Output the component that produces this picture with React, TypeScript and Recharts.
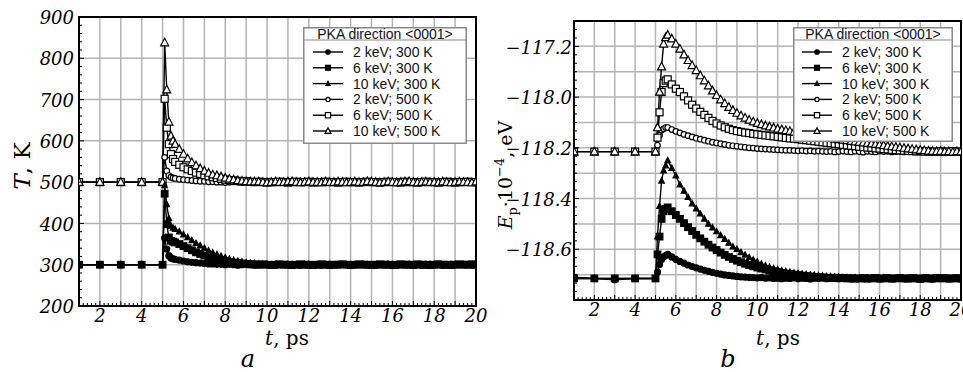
import React from 'react';
import { LineChart, Line, XAxis, YAxis, CartesianGrid, ReferenceArea } from 'recharts';

// time points, ps
const times = [
  1, 2, 3, 4, 5, 5.1, 5.2, 5.3, 5.4, 5.5,
  5.6, 5.8, 6, 6.2, 6.4, 6.6, 6.8, 7, 7.2, 7.4,
  7.6, 7.8, 8, 8.2, 8.4, 8.6, 8.8, 9, 9.2, 9.4,
  9.6, 9.8, 10, 10.2, 10.4, 10.6, 10.8, 11, 11.2, 11.4,
  11.6, 11.8, 12, 12.2, 12.4, 12.6, 12.8, 13, 13.2, 13.4,
  13.6, 13.8, 14, 14.2, 14.4, 14.6, 14.8, 15, 15.2, 15.4,
  15.6, 15.8, 16, 16.2, 16.4, 16.6, 16.8, 17, 17.2, 17.4,
  17.6, 17.8, 18, 18.2, 18.4, 18.6, 18.8, 19, 19.2, 19.4,
  19.6, 19.8, 20,
];

// panel a: temperature, K
const temp2keV300K = [
  300, 300, 300, 300, 300, 365, 338, 322, 316, 314,
  313, 311, 309, 307, 306, 305, 304, 303, 302, 302,
  301, 301, 300, 301, 300, 299, 300, 301, 300, 299,
  300, 300, 301, 300, 299, 300, 300, 301, 300, 300,
  299, 300, 301, 300, 300, 299, 300, 301, 300, 300,
  301, 300, 299, 300, 300, 301, 300, 300, 299, 300,
  300, 301, 300, 299, 300, 300, 301, 300, 300, 299,
  300, 301, 300, 300, 299, 300, 301, 300, 300, 301,
  300, 299, 300,
];
const temp6keV300K = [
  300, 300, 300, 300, 300, 472, 398, 366, 358, 356,
  354, 350, 345, 340, 335, 330, 326, 322, 318, 315,
  312, 310, 308, 306, 305, 304, 303, 302, 301, 301,
  300, 301, 300, 299, 300, 301, 300, 300, 299, 300,
  301, 300, 300, 299, 300, 301, 300, 299, 300, 300,
  301, 300, 299, 300, 301, 300, 300, 299, 300, 301,
  300, 300, 299, 300, 301, 300, 300, 299, 301, 300,
  300, 299, 300, 301, 300, 300, 299, 300, 301, 300,
  300, 301, 300,
];
const temp10keV300K = [
  300, 300, 300, 300, 300, 492, 446, 412, 394, 389,
  386, 380, 373, 366, 359, 352, 346, 340, 334, 329,
  325, 321, 317, 314, 311, 309, 307, 305, 304, 303,
  302, 301, 301, 300, 301, 300, 299, 300, 301, 300,
  300, 301, 300, 299, 300, 300, 301, 300, 299, 300,
  301, 300, 300, 299, 300, 301, 300, 300, 299, 300,
  300, 301, 300, 300, 299, 300, 301, 300, 300, 299,
  301, 300, 300, 301, 299, 300, 300, 301, 300, 300,
  299, 300, 301,
];
const temp2keV500K = [
  500, 500, 500, 500, 500, 560, 527, 516, 512, 510,
  509, 507, 506, 505, 504, 503, 502, 502, 501, 501,
  500, 500, 499, 500, 501, 500, 499, 500, 500, 501,
  500, 499, 500, 501, 500, 500, 499, 500, 501, 500,
  500, 499, 500, 500, 501, 500, 499, 500, 500, 501,
  500, 500, 499, 500, 501, 500, 500, 499, 500, 501,
  500, 499, 500, 500, 501, 500, 499, 500, 500, 501,
  500, 500, 499, 501, 500, 500, 499, 500, 501, 500,
  500, 499, 500,
];
const temp6keV500K = [
  500, 500, 500, 500, 500, 702, 632, 592, 568, 556,
  549, 542, 536, 531, 527, 523, 520, 517, 514, 512,
  510, 508, 506, 505, 504, 503, 502, 502, 501, 500,
  501, 500, 499, 500, 500, 501, 500, 499, 500, 501,
  500, 500, 501, 499, 500, 500, 501, 500, 500, 499,
  500, 501, 500, 500, 499, 500, 501, 500, 500, 499,
  500, 501, 500, 500, 499, 501, 500, 500, 499, 500,
  501, 500, 500, 499, 500, 501, 500, 499, 500, 500,
  501, 500, 500,
];
const temp10keV500K = [
  500, 500, 500, 500, 500, 838, 724, 646, 612, 600,
  592, 580, 568, 557, 548, 540, 533, 527, 522, 518,
  516, 513, 510, 508, 506, 504, 503, 502, 501, 501,
  501, 500, 499, 500, 501, 500, 500, 501, 502, 500,
  499, 500, 501, 500, 500, 499, 501, 500, 500, 501,
  500, 499, 500, 501, 500, 500, 502, 501, 500, 499,
  500, 501, 500, 499, 500, 501, 502, 500, 499, 500,
  501, 500, 500, 499, 501, 500, 499, 500, 501, 500,
  500, 499, 501,
];

// panel b: potential energy, 10^4 eV
const ep2keV300K = [
  -118.71, -118.715, -118.72, -118.715, -118.715, -118.69, -118.66, -118.64, -118.63, -118.625,
  -118.62, -118.63, -118.64, -118.648, -118.655, -118.662, -118.668, -118.673, -118.678, -118.683,
  -118.687, -118.691, -118.695, -118.698, -118.701, -118.703, -118.705, -118.707, -118.709, -118.71,
  -118.711, -118.712, -118.713, -118.712, -118.714, -118.713, -118.715, -118.714, -118.716, -118.714,
  -118.715, -118.713, -118.716, -118.714, -118.715, -118.717, -118.714, -118.715, -118.713, -118.716,
  -118.715, -118.714, -118.716, -118.713, -118.715, -118.717, -118.714, -118.715, -118.716, -118.713,
  -118.715, -118.714, -118.717, -118.715, -118.713, -118.716, -118.715, -118.714, -118.716, -118.715,
  -118.713, -118.715, -118.716, -118.714, -118.715, -118.717, -118.714, -118.715, -118.713, -118.716,
  -118.715, -118.714, -118.715,
];
const ep6keV300K = [
  -118.715, -118.715, -118.715, -118.715, -118.715, -118.62, -118.55, -118.48, -118.45, -118.44,
  -118.435, -118.45, -118.465, -118.48, -118.497, -118.513, -118.528, -118.543, -118.557, -118.57,
  -118.582, -118.593, -118.603, -118.613, -118.622, -118.63, -118.638, -118.645, -118.651, -118.657,
  -118.662, -118.667, -118.672, -118.676, -118.68, -118.684, -118.687, -118.69, -118.693, -118.696,
  -118.698, -118.7, -118.702, -118.704, -118.706, -118.707, -118.709, -118.71, -118.711, -118.712,
  -118.713, -118.712, -118.714, -118.713, -118.715, -118.714, -118.716, -118.715, -118.714, -118.716,
  -118.715, -118.713, -118.716, -118.715, -118.714, -118.716, -118.715, -118.713, -118.715, -118.716,
  -118.714, -118.715, -118.717, -118.714, -118.715, -118.716, -118.713, -118.715, -118.714, -118.716,
  -118.715, -118.714, -118.716,
];
const ep10keV300K = [
  -118.715, -118.715, -118.715, -118.715, -118.715, -118.55, -118.43, -118.33, -118.29, -118.27,
  -118.25, -118.28, -118.31, -118.345, -118.37, -118.395, -118.42, -118.44, -118.46, -118.48,
  -118.5, -118.515, -118.53, -118.545, -118.56, -118.575, -118.59, -118.6, -118.612, -118.622,
  -118.632, -118.642, -118.65, -118.658, -118.664, -118.67, -118.675, -118.68, -118.684, -118.687,
  -118.69, -118.693, -118.695, -118.697, -118.699, -118.701, -118.702, -118.704, -118.705, -118.707,
  -118.708, -118.709, -118.71, -118.711, -118.712, -118.713, -118.712, -118.714, -118.713, -118.715,
  -118.714, -118.716, -118.715, -118.713, -118.715, -118.716, -118.714, -118.715, -118.717, -118.714,
  -118.715, -118.713, -118.716, -118.715, -118.714, -118.716, -118.715, -118.713, -118.715, -118.716,
  -118.714, -118.715, -118.716,
];
const ep2keV500K = [
  -118.215, -118.215, -118.215, -118.215, -118.215, -118.19, -118.15, -118.13, -118.125, -118.12,
  -118.12, -118.128, -118.135, -118.141, -118.147, -118.152, -118.157, -118.162, -118.166, -118.17,
  -118.174, -118.178, -118.181, -118.184, -118.187, -118.19, -118.192, -118.194, -118.196, -118.198,
  -118.2, -118.201, -118.203, -118.204, -118.205, -118.206, -118.207, -118.208, -118.209, -118.21,
  -118.21, -118.211, -118.212, -118.211, -118.213, -118.212, -118.214, -118.213, -118.214, -118.215,
  -118.214, -118.216, -118.215, -118.213, -118.215, -118.216, -118.214, -118.215, -118.217, -118.214,
  -118.215, -118.216, -118.213, -118.215, -118.214, -118.216, -118.215, -118.213, -118.216, -118.215,
  -118.214, -118.216, -118.215, -118.213, -118.215, -118.217, -118.214, -118.215, -118.216, -118.214,
  -118.215, -118.214, -118.215,
];
const ep6keV500K = [
  -118.215, -118.215, -118.215, -118.215, -118.215, -118.16, -118.06, -117.98, -117.945, -117.935,
  -117.93, -117.95, -117.967, -117.98, -117.997, -118.013, -118.03, -118.045, -118.058, -118.07,
  -118.082, -118.094, -118.104, -118.112, -118.119, -118.125, -118.13, -118.134, -118.137, -118.14,
  -118.142, -118.145, -118.147, -118.149, -118.151, -118.153, -118.155, -118.157, -118.159, -118.161,
  -118.163, -118.164, -118.166, -118.168, -118.17, -118.172, -118.174, -118.176, -118.178, -118.18,
  -118.182, -118.184, -118.186, -118.188, -118.19, -118.192, -118.194, -118.196, -118.197, -118.199,
  -118.2, -118.202, -118.203, -118.205, -118.206, -118.208, -118.209, -118.21, -118.211, -118.212,
  -118.213, -118.214, -118.213, -118.215, -118.214, -118.216, -118.215, -118.214, -118.216, -118.215,
  -118.213, -118.215, -118.215,
];
const ep10keV500K = [
  -118.215, -118.215, -118.215, -118.215, -118.215, -118.12, -117.98, -117.88, -117.79, -117.765,
  -117.755, -117.77, -117.79, -117.81, -117.833, -117.855, -117.875, -117.895, -117.915, -117.935,
  -117.955, -117.975, -117.993, -118.01, -118.025, -118.04, -118.052, -118.063, -118.073, -118.082,
  -118.09, -118.097, -118.103, -118.108, -118.113, -118.117, -118.121, -118.125, -118.128, -118.131,
  -118.134, -118.137, -118.14, -118.143, -118.146, -118.149, -118.152, -118.155, -118.157, -118.16,
  -118.162, -118.165, -118.167, -118.169, -118.171, -118.174, -118.176, -118.178, -118.18, -118.182,
  -118.184, -118.186, -118.188, -118.19, -118.193, -118.195, -118.197, -118.199, -118.201, -118.203,
  -118.205, -118.207, -118.209, -118.21, -118.212, -118.213, -118.214, -118.213, -118.215, -118.214,
  -118.216, -118.214, -118.215,
];

const seriesNames = ['2 keV; 300 K', '6 keV; 300 K', '10 keV; 300 K', '2 keV; 500 K', '6 keV; 500 K', '10 keV; 500 K'];
const markerShapes = ['circle', 'square', 'triangle', 'circle', 'square', 'triangle'];
const markerFilled = [true, true, true, false, false, false];
const legendTitle = 'PKA direction <0001>';

const xLabels = [2, 4, 6, 8, 10, 12, 14, 16, 18, 20];
const xGrid = [1, 2, 3, 4, 5, 6, 7, 8, 9, 10, 11, 12, 13, 14, 15, 16, 17, 18, 19, 20];
const yLabelsA = [200, 300, 400, 500, 600, 700, 800, 900];
const yValuesB = [-118.6, -118.4, -118.2, -118.0, -117.8];
const yLabelsB = ['−118.6', '−118.4', '−118.2', '−118.0', '−117.2'];
const yGridB = [-118.8, -118.7, -118.6, -118.5, -118.4, -118.3, -118.2, -118.1, -118.0, -117.9, -117.8, -117.7];

// minor tick positions (axis decoration)
const xMinor = Array.from({ length: 96 }, (_, i) => +(1 + i * 0.2).toFixed(2));
const yMinorA = Array.from({ length: 36 }, (_, i) => 200 + i * 20);
const yMinorB = Array.from({ length: 34 }, (_, i) => +(-118.8 + i / 30).toFixed(4));

const serif = "'DejaVu Serif', 'Liberation Serif', serif";
const sans = "'Liberation Sans', Arial, Helvetica, sans-serif";
const tickStyle: React.CSSProperties = { fontFamily: serif, fontStyle: 'italic', fontSize: 18, fill: '#000' };
const titleStyle: React.CSSProperties = { fontFamily: serif, fontSize: 20, fill: '#000' };
const legendStyle: React.CSSProperties = { fontFamily: sans, fontSize: 14, fill: '#111' };

const keys = ['s0', 's1', 's2', 's3', 's4', 's5'];
const buildRows = (series: number[][]) =>
  times.map((t, i) => {
    const row: Record<string, number> = { t };
    series.forEach((s, k) => (row[keys[k]] = s[i]));
    return row;
  });

const tempRows = buildRows([temp2keV300K, temp6keV300K, temp10keV300K, temp2keV500K, temp6keV500K, temp10keV500K]);
const epRows = buildRows([ep2keV300K, ep6keV300K, ep10keV300K, ep2keV500K, ep6keV500K, ep10keV500K]);

function Marker({ cx, cy, shape, filled, small = false }: any) {
  if (cx == null || cy == null) return null;
  const fill = filled ? '#000' : '#fff';
  const k = small ? 0.75 : 1;
  if (shape === 'circle') {
    const r = (filled ? 3 : 2.8) * k;
    return <circle cx={cx} cy={cy} r={r} fill={fill} stroke="#000" strokeWidth={1.2} />;
  }
  if (shape === 'square') {
    const h = (filled ? 3.3 : 3.5) * k;
    return <rect x={cx - h} y={cy - h} width={2 * h} height={2 * h} fill={fill} stroke="#000" strokeWidth={1.2} />;
  }
  const h = (filled ? 2.8 : 4) * k;
  return (
    <polygon
      points={`${cx},${cy - h * 1.1} ${cx - h},${cy + h * 0.8} ${cx + h},${cy + h * 0.8}`}
      fill={fill}
      stroke="#000"
      strokeWidth={1.2}
    />
  );
}

const makeDot = (k: number) => (p: any) => (
  <Marker key={`${k}-${p.index}`} cx={p.cx} cy={p.cy} shape={markerShapes[k]} filled={markerFilled[k]} />
);

const XTick = (props: any) => {
  const { x, y, payload } = props;
  const v = payload.value;
  const isInt = Math.abs(v - Math.round(v)) < 1e-6;
  const label = xLabels.find((m) => Math.abs(m - v) < 1e-6);
  return (
    <g>
      <line x1={x} x2={x} y1={y} y2={y - (isInt ? 5 : 3)} stroke="#000" strokeWidth={1} />
      {label !== undefined && (
        <text x={x} y={y + 16} textAnchor="middle" style={tickStyle}>
          {label}
        </text>
      )}
    </g>
  );
};

const YTickA = (props: any) => {
  const { x, y, payload } = props;
  const v = payload.value;
  const label = yLabelsA.find((m) => Math.abs(m - v) < 1e-6);
  return (
    <g>
      <line x1={x} x2={x + (label !== undefined ? 5 : 3)} y1={y} y2={y} stroke="#000" strokeWidth={1} />
      {label !== undefined && (
        <text x={x - 5} y={y} dy="0.4em" textAnchor="end" style={tickStyle}>
          {label}
        </text>
      )}
    </g>
  );
};

const YTickB = (props: any) => {
  const { x, y, payload } = props;
  const v = payload.value;
  const idx = yValuesB.findIndex((m) => Math.abs(m - v) < 1e-4);
  return (
    <g>
      <line x1={x} x2={x + (idx >= 0 ? 5 : 3)} y1={y} y2={y} stroke="#000" strokeWidth={1} />
      {idx >= 0 && (
        <text x={x - 2} y={y} dy="0.4em" textAnchor="end" style={tickStyle}>
          {yLabelsB[idx]}
        </text>
      )}
    </g>
  );
};

function LegendBox({ left, top, width, height, sampleX }: any) {
  return (
    <svg style={{ position: 'absolute', left, top, pointerEvents: 'none' }} width={width} height={height}>
      <rect x={0.75} y={0.75} width={width - 1.5} height={height - 1.5} fill="#fff" stroke="#8a8a8a" strokeWidth={1.5} />
      <line x1={0} x2={width} y1={13} y2={13} stroke="#8a8a8a" strokeWidth={1.2} />
      <text x={width / 2} y={11.5} textAnchor="middle" style={legendStyle}>
        {legendTitle}
      </text>
      {seriesNames.map((name, k) => {
        const cy = 25 + k * 15.8;
        return (
          <g key={name}>
            <line x1={sampleX} x2={sampleX + 30} y1={cy} y2={cy} stroke="#000" strokeWidth={1.4} />
            <Marker cx={sampleX + 15} cy={cy} shape={markerShapes[k]} filled={markerFilled[k]} small />
            <text x={sampleX + 40} y={cy + 5} style={legendStyle}>
              {name}
            </text>
          </g>
        );
      })}
    </svg>
  );
}

function renderLines() {
  return [3, 4, 5, 0, 1, 2].map((k) => (
    <Line
      key={keys[k]}
      dataKey={keys[k]}
      type="linear"
      stroke="#000"
      strokeWidth={1.4}
      dot={makeDot(k)}
      activeDot={false}
      isAnimationActive={false}
    />
  ));
}

export default function App() {
  return (
    <div style={{ position: 'fixed', left: 0, top: 0, width: 963, height: 372, background: '#fff', overflow: 'hidden' }}>
      <div style={{ position: 'absolute', left: 0, top: 0 }}>
        <LineChart width={492} height={372} data={tempRows} margin={{ top: 17, right: 16, bottom: 36, left: 0 }}>
          <CartesianGrid stroke="#b4b4b4" strokeWidth={1.5} verticalValues={xGrid} horizontalValues={yLabelsA} />
          <XAxis
            dataKey="t"
            type="number"
            domain={[1, 20]}
            allowDataOverflow
            ticks={xMinor}
            interval={0}
            tickSize={0}
            tickMargin={0}
            tick={<XTick />}
            axisLine={{ stroke: '#000', strokeWidth: 2 }}
            height={30}
          />
          <YAxis
            type="number"
            domain={[200, 900]}
            allowDataOverflow
            ticks={yMinorA}
            interval={0}
            tickSize={0}
            tickMargin={0}
            tick={<YTickA />}
            axisLine={{ stroke: '#000', strokeWidth: 2 }}
            width={79}
          />
          <ReferenceArea x1={1} x2={20} y1={200} y2={900} fill="none" stroke="#000" strokeWidth={2} />
          {renderLines()}
        </LineChart>
      </div>
      <div style={{ position: 'absolute', left: 480, top: 0 }}>
        <LineChart width={483} height={372} data={epRows} margin={{ top: 21, right: 2, bottom: 42, left: 0 }}>
          <CartesianGrid stroke="#b4b4b4" strokeWidth={1.5} verticalValues={xGrid} horizontalValues={yGridB} />
          <XAxis
            dataKey="t"
            type="number"
            domain={[1, 20]}
            allowDataOverflow
            ticks={xMinor}
            interval={0}
            tickSize={0}
            tickMargin={0}
            tick={<XTick />}
            axisLine={{ stroke: '#000', strokeWidth: 2 }}
            height={30}
          />
          <YAxis
            type="number"
            domain={[-118.8, -117.7]}
            allowDataOverflow
            ticks={yMinorB}
            interval={0}
            tickSize={0}
            tickMargin={0}
            tick={<YTickB />}
            axisLine={{ stroke: '#000', strokeWidth: 2 }}
            width={94}
          />
          <ReferenceArea x1={1} x2={20} y1={-118.8} y2={-117.7} fill="none" stroke="#000" strokeWidth={2} />
          {renderLines()}
        </LineChart>
      </div>

      <LegendBox left={303} top={27} width={164} height={117} sampleX={10} />
      <LegendBox left={793} top={27} width={160} height={115} sampleX={9} />

      <svg style={{ position: 'absolute', left: 0, top: 0, pointerEvents: 'none' }} width={963} height={372}>
        <text x={30} y={166} transform="rotate(-90 30 166)" textAnchor="middle" style={{ ...titleStyle, fontSize: 23 }}>
          <tspan style={{ fontStyle: 'italic' }}>T</tspan>, K
        </text>
        <text x={512} y={175} transform="rotate(-90 512 175)" textAnchor="middle" style={{ ...titleStyle, fontSize: 19 }}>
          <tspan style={{ fontStyle: 'italic' }}>E</tspan>
          <tspan style={{ fontSize: 13 }} dy={5}>p</tspan>
          <tspan dy={-5}>·10</tspan>
          <tspan style={{ fontSize: 13 }} dy={-8}>−4</tspan>
          <tspan dy={8}>, eV</tspan>
        </text>
        <text x={287} y={345} textAnchor="middle" style={titleStyle}>
          <tspan style={{ fontStyle: 'italic' }}>t</tspan>, ps
        </text>
        <text x={778} y={345} textAnchor="middle" style={titleStyle}>
          <tspan style={{ fontStyle: 'italic' }}>t</tspan>, ps
        </text>
        <text x={248} y={367} textAnchor="middle" style={{ ...titleStyle, fontStyle: 'italic', fontSize: 24 }}>
          a
        </text>
        <text x={728} y={367} textAnchor="middle" style={{ ...titleStyle, fontStyle: 'italic', fontSize: 24 }}>
          b
        </text>
      </svg>
    </div>
  );
}
